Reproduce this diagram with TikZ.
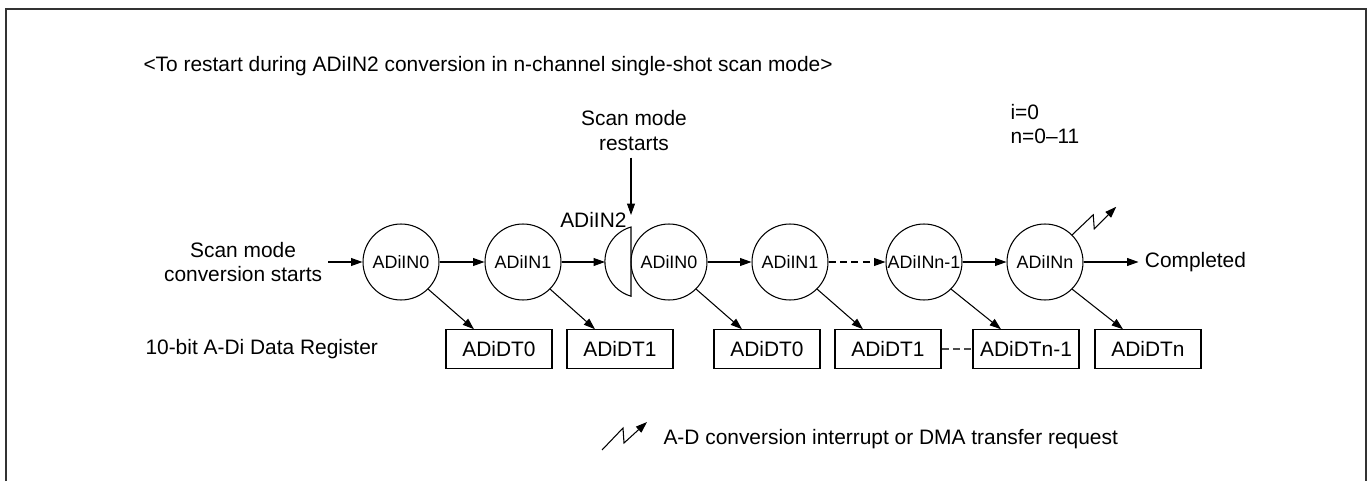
\documentclass[tikz,border=0pt]{standalone}
\usepackage{fontspec}
\setmainfont{Liberation Sans}
\usetikzlibrary{
    arrows.meta,  % For arrow tips
    calc,         % For offsets from anchors
    positioning   % For the side labels
}

\begin{document}
\begin{tikzpicture}[
    x=0.02cm, y=0.02cm,
    >={Triangle[length=6.5pt,width=4.5pt]}, % Filled arrow heads
    line width=0.6pt,
    txt/.style={font=\fontsize{11.9}{14.2}\selectfont, align=center},
    % Style for one conversion channel
    chan/.style={circle, draw, minimum size=1.52cm, inner sep=0pt,
        font=\fontsize{10.2}{12}\selectfont},
    % Style for one data register
    reg/.style={rectangle, draw, minimum width=2.12cm, minimum height=0.77cm,
        inner sep=0pt, font=\fontsize{11.9}{14.2}\selectfont},
    dashline/.style={dash pattern=on 4pt off 2.5pt}
]
    \useasboundingbox (0,0) rectangle (1372,481);

    % Open frame (no bottom edge)
    \draw[line width=1pt, black!80] (6,0) -- (6,472) -- (1366,472) -- (1366,0);

    % Title and notes
    \node[txt, anchor=west, inner sep=0pt] (title) at (143,415)
        {<To restart during ADiIN2 conversion in n-channel single-shot scan mode>};
    \node[txt, anchor=west, align=left, inner sep=0pt] (notes) at (1010,357)
        {i=0\\n=0–11};

    % Channels in scan order
    \node[chan] (in0)   at (401,219)  {ADiIN0};
    \node[chan] (in1)   at (523,219)  {ADiIN1};
    \node[chan] (in0b)  at (669,219)  {ADiIN0};
    \node[chan] (in1b)  at (790,219)  {ADiIN1};
    \node[chan] (innm1) at (924,219)  {ADiINn-1};
    \node[chan] (inn)   at (1045,219) {ADiINn};

    % Interrupted ADiIN2 (cut-off circle)
    \draw (631,254) arc[start angle=106, end angle=254, radius=36] -- cycle;
    \coordinate (rst) at (605,219);
    \node[txt, anchor=east, inner sep=0pt] (in2lbl) at (627,261) {ADiIN2};

    % Data registers
    \node[reg] (dt0)   at (499,132)  {ADiDT0};
    \node[reg] (dt1)   at (620,132)  {ADiDT1};
    \node[reg] (dt0b)  at (767,132)  {ADiDT0};
    \node[reg] (dt1b)  at (888,132)  {ADiDT1};
    \node[reg] (dtnm1) at (1026,132) {ADiDTn-1};
    \node[reg] (dtn)   at (1148,132) {ADiDTn};
    \node[txt, anchor=west, inner sep=0pt] (reglbl) at (145,132)
        {10-bit A-Di Data Register};

    % Start, restart and end labels
    \node[txt, left=0.68cm of in0] (start) {Scan mode\\conversion starts};
    \node[txt] (restart) at (634,350) {Scan mode\\restarts};
    \coordinate (rsttop) at (631,266);
    \node[txt, right=1.1cm of inn] (done) {Completed};

    % Scan sequence
    \draw[->] (start) -- (in0);
    \draw[->] (in0) -- (in1);
    \draw[->] (in1) -- (rst);
    \draw[->] (restart.south -| rsttop) -- (rsttop);
    \draw[->] (in0b) -- (in1b);
    \draw[->, dashline] (in1b) -- (innm1);
    \draw[->] (innm1) -- (inn);
    \draw[->] (inn) -- (done);
    \draw[dashline, black!70] (dt1b) -- (dtnm1);

    % Results into registers
    \foreach \c/\r in {in0/dt0, in1/dt1, in0b/dt0b, in1b/dt1b, innm1/dtnm1, inn/dtn}
        \draw[->] (\c.-45) -- ($(\r.north)+(-25,0)$);

    % Interrupt request
    \draw[->] (inn.45) -- ++(21,20) -- ++(1,-14) -- ++(22,22);

    % Key
    \coordinate (key) at (602,31);
    \draw[->] (key) -- ++(21,22) -- ++(1,-15) -- ++(23,21);
    \node[txt, anchor=west, inner sep=0pt] (keylbl) at (663,42)
        {A-D conversion interrupt or DMA transfer request};
\end{tikzpicture}
\end{document}
